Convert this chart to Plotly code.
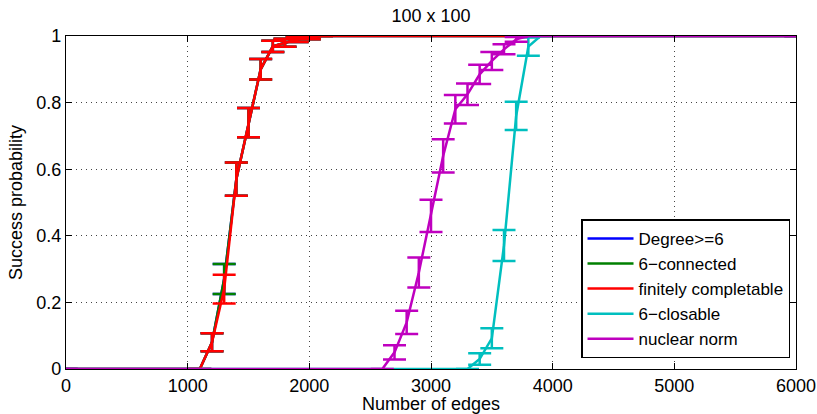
import plotly.graph_objects as go

# ---- data ----
series_names = ["Degree>=6", "6\u2212connected", "finitely completable", "6\u2212closable", "nuclear norm"]
series_colors = ["#0000FF", "#008000", "#FF0000", "#00BFBF", "#BF00BF"]

blue_x = [0, 1100, 1200, 1300, 1400, 1500, 1600, 1700, 1800, 1900, 2000, 2100, 6000]
blue_y = [0, 0, 0.08, 0.27, 0.57, 0.74, 0.90, 0.969, 0.98, 0.99, 0.995, 1, 1]
blue_e = [0, 0, 0.027, 0.045, 0.05, 0.044, 0.031, 0.017, 0.012, 0.008, 0.005, 0, 0]

green_x = [0, 1100, 1200, 1300, 1400, 1500, 1600, 1700, 1800, 1900, 2000, 2100, 6000]
green_y = [0, 0, 0.08, 0.27, 0.57, 0.74, 0.90, 0.969, 0.98, 0.99, 0.995, 1, 1]
green_e = [0, 0, 0.027, 0.045, 0.05, 0.044, 0.031, 0.017, 0.012, 0.008, 0.005, 0, 0]

red_x = [0, 1100, 1200, 1300, 1400, 1500, 1600, 1700, 1800, 1900, 2000, 2100, 6000]
red_y = [0, 0, 0.08, 0.24, 0.57, 0.74, 0.90, 0.969, 0.98, 0.99, 0.995, 1, 1]
red_e = [0, 0, 0.027, 0.043, 0.05, 0.044, 0.031, 0.017, 0.012, 0.008, 0.005, 0, 0]

cyan_x = [0, 3300, 3400, 3500, 3600, 3700, 3800, 3900, 6000]
cyan_y = [0, 0, 0.03, 0.092, 0.371, 0.76, 0.968, 1, 1]
cyan_e = [0, 0, 0.0175, 0.03, 0.0465, 0.0425, 0.0275, 0, 0]

magenta_x = [0, 2600, 2700, 2800, 2900, 3000, 3100, 3200, 3300, 3400, 3500, 3600, 3700, 3800, 6000]
magenta_y = [0, 0, 0.05, 0.14, 0.29, 0.46, 0.64, 0.78, 0.825, 0.885, 0.925, 0.96, 0.99, 1, 1]
magenta_e = [0, 0, 0.0215, 0.035, 0.045, 0.0485, 0.05, 0.0425, 0.0325, 0.029, 0.027, 0.015, 0.007, 0, 0]

x_ticks = [0, 1000, 2000, 3000, 4000, 5000, 6000]
y_ticks = [0, 0.2, 0.4, 0.6, 0.8, 1]
y_tick_labels = ["0", "0.2", "0.4", "0.6", "0.8", "1"]

title_text = "100 x 100"
x_title = "Number of edges"
y_title = "Success probability"

# ---- figure ----
FONT = "Liberation Sans, Arial, Helvetica, sans-serif"
FS = 18
fig = go.Figure()

all_series = [
    (blue_x, blue_y, blue_e),
    (green_x, green_y, green_e),
    (red_x, red_y, red_e),
    (cyan_x, cyan_y, cyan_e),
    (magenta_x, magenta_y, magenta_e),
]
for (xs, ys, es), name, col in zip(all_series, series_names, series_colors):
    fig.add_trace(go.Scatter(
        x=xs, y=ys, mode="lines", name=name,
        line=dict(color=col, width=2.5),
        error_y=dict(type="data", array=es, visible=True, color=col,
                     thickness=2.5, width=11.5),
    ))

axis_common = dict(
    showline=True, linecolor="black", linewidth=1.2, mirror="ticks",
    ticks="inside", ticklen=6, tickcolor="black", tickwidth=1,
    showgrid=True, gridcolor="#444444", griddash="1px,4px", gridwidth=1,
    zeroline=False, automargin=False,
    tickfont=dict(family=FONT, size=FS, color="black"),
)

fig.update_layout(
    width=817, height=414,
    margin=dict(l=66, r=21, t=36, b=45),
    paper_bgcolor="white", plot_bgcolor="white",
    title=dict(text=title_text, x=0.5, xref="paper", y=1 - 16 / 414, yref="container",
               yanchor="middle", font=dict(family=FONT, size=FS, color="black")),
    xaxis=dict(range=[0, 6000], tickvals=x_ticks,
               title=dict(text=x_title, font=dict(family=FONT, size=FS, color="black"), standoff=0),
               **axis_common),
    yaxis=dict(range=[0, 1], tickvals=y_ticks, ticktext=y_tick_labels,
               title=dict(text=y_title, font=dict(family=FONT, size=FS, color="black"), standoff=8),
               **axis_common),
    legend=dict(x=0.9918, xanchor="right", y=0.032, yanchor="bottom",
                bgcolor="white", bordercolor="black", borderwidth=1.5,
                font=dict(family=FONT, size=17, color="black"),
                tracegroupgap=0, itemwidth=46),
    showlegend=True,
)

fig.write_html("out.html", config={"displayModeBar": False},
               post_script="document.body.style.margin='0';document.body.style.overflow='hidden';")
